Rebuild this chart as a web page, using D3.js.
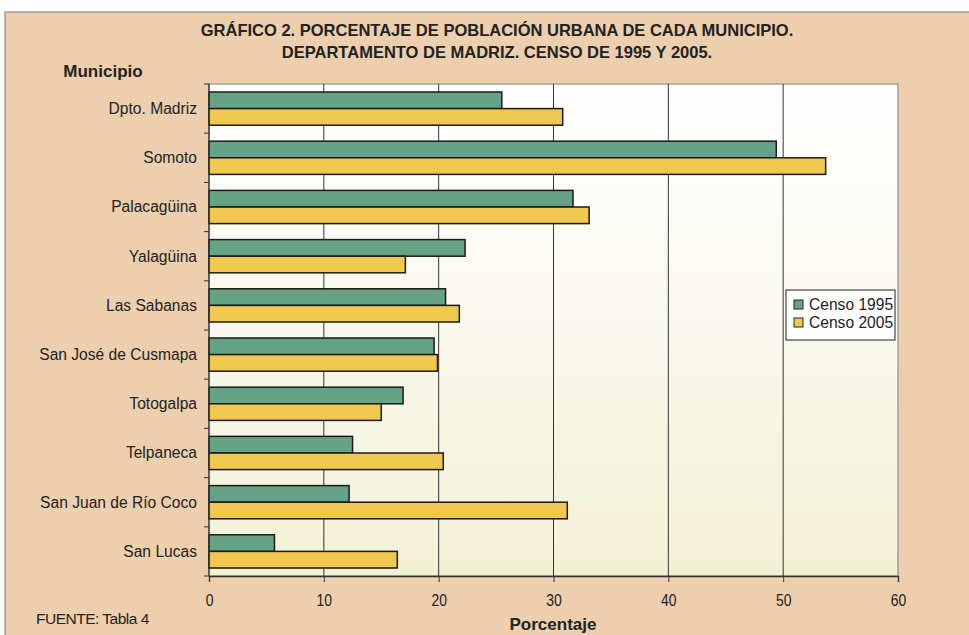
<!DOCTYPE html>
<html>
<head>
<meta charset="utf-8">
<script src="https://cdn.jsdelivr.net/npm/d3@7"></script>
<style>
  body { margin: 0; background: #ffffff; }
  svg { display: block; }
  text { font-family: "Liberation Sans", Arial, sans-serif; fill: #222; }
  .narrow { font-family: "Liberation Sans Narrow", "Arial Narrow", "Liberation Sans", sans-serif; font-weight: bold; }
</style>
</head>
<body>
<div class="container"></div>
<script>
const width = 969;
const height = 635;

// data
const municipios = ["Dpto. Madriz", "Somoto", "Palacagüina", "Yalagüina", "Las Sabanas",
    "San José de Cusmapa", "Totogalpa", "Telpaneca", "San Juan de Río Coco", "San Lucas"];
const series = ["Censo 1995", "Censo 2005"];
const censo1995 = [25.5, 49.4, 31.7, 22.3, 20.6, 19.6, 16.9, 12.5, 12.2, 5.7];
const censo2005 = [30.8, 53.7, 33.1, 17.1, 21.8, 19.9, 15.0, 20.4, 31.2, 16.4];
const xTicks = [0, 10, 20, 30, 40, 50, 60];
const colors = ["#66a386", "#f0c84e"];

const plot = { left: 209, right: 898, top: 84, bottom: 576 };

const svg = d3.select(".container")
    .append("svg")
    .attr("width", width)
    .attr("height", height);

const defs = svg.append("defs");
const grad = defs.append("linearGradient")
    .attr("id", "plotbg")
    .attr("x1", 0).attr("y1", 0).attr("x2", 0).attr("y2", 1);
grad.append("stop").attr("offset", "0%").attr("stop-color", "#ffffff");
grad.append("stop").attr("offset", "20%").attr("stop-color", "#fdfdfb");
grad.append("stop").attr("offset", "100%").attr("stop-color", "#f3f1d4");

// outer frame
svg.append("rect")
    .attr("x", 5).attr("y", 12)
    .attr("width", width + 10).attr("height", height)
    .attr("fill", "#edcfad")
    .attr("stroke", "#8a8a8a")
    .attr("stroke-width", 1.2);

const xScale = d3.scaleLinear()
    .domain([0, 60])
    .range([plot.left, plot.right]);

const yScale = d3.scaleBand()
    .domain(municipios)
    .range([plot.top, plot.bottom])
    .paddingInner(0.325)
    .paddingOuter(0.1625);

const ySeries = d3.scaleBand()
    .domain(series)
    .range([0, yScale.bandwidth()]);

// plot area
svg.append("rect")
    .attr("x", plot.left).attr("y", plot.top)
    .attr("width", plot.right - plot.left)
    .attr("height", plot.bottom - plot.top)
    .attr("fill", "url(#plotbg)")
    .attr("stroke", "#a0a0a0")
    .attr("stroke-width", 1.5);

// gridlines
svg.append("g")
    .selectAll("line")
    .data(xTicks.slice(1, -1))
    .enter()
    .append("line")
    .attr("x1", d => xScale(d)).attr("x2", d => xScale(d))
    .attr("y1", plot.top).attr("y2", plot.bottom)
    .attr("stroke", "#333")
    .attr("stroke-width", 1);

// bars
const rows = municipios.map((m, i) => ({ name: m, vals: [censo1995[i], censo2005[i]] }));

const g = svg.append("g");
rows.forEach(r => {
    g.selectAll(null)
        .data(r.vals)
        .enter()
        .append("rect")
        .attr("x", xScale(0))
        .attr("y", (d, j) => yScale(r.name) + ySeries(series[j]))
        .attr("width", d => xScale(d) - xScale(0))
        .attr("height", ySeries.bandwidth())
        .attr("fill", (d, j) => colors[j])
        .attr("stroke", "#1a1a1a")
        .attr("stroke-width", 1.5);
});

// x axis
const xAxis = svg.append("g")
    .attr("transform", `translate(0,${plot.bottom})`)
    .call(d3.axisBottom(xScale).tickValues(xTicks).tickSize(6).tickPadding(12));
xAxis.select(".domain").attr("stroke", "#333").attr("stroke-width", 1.3);
xAxis.selectAll(".tick line").attr("stroke", "#333");
// narrow-looking digits
xAxis.selectAll("text")
    .attr("font-size", 17)
    .attr("font-family", "Liberation Sans, sans-serif")
    .attr("fill", "#222")
    .attr("transform", "scale(0.82,1)")
    .attr("y", 12 + 6);

// y axis: ticks at category boundaries
const step = yScale.step();
const bounds = d3.range(municipios.length + 1).map(i => plot.top + i * step);
svg.append("line")
    .attr("x1", plot.left).attr("x2", plot.left)
    .attr("y1", plot.top).attr("y2", plot.bottom)
    .attr("stroke", "#333").attr("stroke-width", 1.3);
svg.append("g")
    .selectAll("line")
    .data(bounds)
    .enter()
    .append("line")
    .attr("x1", plot.left - 5).attr("x2", plot.left)
    .attr("y1", d => d).attr("y2", d => d)
    .attr("stroke", "#333");

svg.append("g")
    .selectAll("text")
    .data(municipios)
    .enter()
    .append("text")
    .attr("x", 197)
    .attr("y", d => yScale(d) + yScale.bandwidth() / 2)
    .attr("dy", "0.35em")
    .attr("text-anchor", "end")
    .attr("font-size", 15.6)
    .text(d => d);

// titles
svg.append("text")
    .attr("class", "narrow")
    .attr("x", 497).attr("y", 36)
    .attr("text-anchor", "middle")
    .attr("font-size", 16.5)
    .text("GRÁFICO 2. PORCENTAJE DE POBLACIÓN URBANA DE CADA MUNICIPIO.");
svg.append("text")
    .attr("class", "narrow")
    .attr("x", 497).attr("y", 58)
    .attr("text-anchor", "middle")
    .attr("font-size", 16.5)
    .text("DEPARTAMENTO DE MADRIZ. CENSO DE 1995 Y 2005.");
svg.append("text")
    .attr("class", "narrow")
    .attr("x", 103).attr("y", 77)
    .attr("text-anchor", "middle")
    .attr("font-size", 17)
    .text("Municipio");
svg.append("text")
    .attr("class", "narrow")
    .attr("x", 553).attr("y", 630)
    .attr("text-anchor", "middle")
    .attr("font-size", 17)
    .text("Porcentaje");
svg.append("text")
    .attr("x", 36).attr("y", 624)
    .attr("font-size", 15.5)
    .attr("letter-spacing", -0.5)
    .text("FUENTE: Tabla 4");

// legend
const legend = svg.append("g").attr("transform", "translate(786,290)");
legend.append("rect")
    .attr("width", 109).attr("height", 50)
    .attr("fill", "#ffffff")
    .attr("stroke", "#222");
series.forEach((s, i) => {
    legend.append("rect")
        .attr("x", 8).attr("y", 10 + i * 18)
        .attr("width", 9).attr("height", 9)
        .attr("fill", colors[i])
        .attr("stroke", "#222");
    legend.append("text")
        .attr("x", 23).attr("y", 19.5 + i * 18)
        .attr("font-size", 15.6)
        .text(s);
});
</script>
</body>
</html>
